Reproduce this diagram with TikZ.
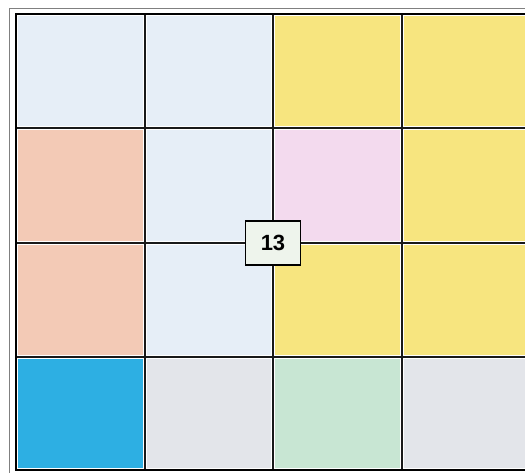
\documentclass[tikz,border=0pt]{standalone}
\usepackage{fontspec}
\setmainfont{Liberation Sans}
\definecolor{cLB}{HTML}{E6EEF7}
\definecolor{cYe}{HTML}{F7E57F}
\definecolor{cSa}{HTML}{F3CAB6}
\definecolor{cPk}{HTML}{F3DAEE}
\definecolor{cBl}{HTML}{2DAFE3}
\definecolor{cGr}{HTML}{E3E5EA}
\definecolor{cMi}{HTML}{C8E6D3}
\definecolor{cLab}{HTML}{EEF4EC}
\begin{document}
\begin{tikzpicture}[x=1pt,y=1pt,
  cellfill/.style={fill=#1,draw=none},
  gridline/.style={draw=black!90,line width=1.8pt},
  outerline/.style={draw=black,line width=2.6pt},
  labelbox/.style={draw=black,line width=1.8pt,fill=cLab,minimum width=55pt,minimum height=44pt,inner sep=0pt,font=\fontsize{22}{22}\selectfont\bfseries}]
\useasboundingbox (0,0) rectangle (525,473);
\fill[white] (0,0) rectangle (525,473);
% thin outer frame
\draw[black!50,line width=0.9pt] (9,-5) -- (9,465) -- (530,465);
% grid positions (px): x 16,145,273,402,531 ; y 14,128,243,357,470 (from top)
\def\xa{16}\def\xb{145}\def\xc{273}\def\xd{402}\def\xe{531}
\def\ya{459}\def\yb{345}\def\yc{230}\def\yd{116}\def\ye{3}
% row 1
\fill[cellfill=cLB] (\xa+2,\yb+2) rectangle (\xb-2,\ya-2);
\fill[cellfill=cLB] (\xb+2,\yb+2) rectangle (\xc-2,\ya-2);
\fill[cellfill=cYe] (\xc+2,\yb+2) rectangle (\xd-2,\ya-2);
\fill[cellfill=cYe] (\xd+2,\yb+2) rectangle (\xe-2,\ya-2);
% row 2
\fill[cellfill=cSa] (\xa+2,\yc+2) rectangle (\xb-2,\yb-2);
\fill[cellfill=cLB] (\xb+2,\yc+2) rectangle (\xc-2,\yb-2);
\fill[cellfill=cPk] (\xc+2,\yc+2) rectangle (\xd-2,\yb-2);
\fill[cellfill=cYe] (\xd+2,\yc+2) rectangle (\xe-2,\yb-2);
% row 3
\fill[cellfill=cSa] (\xa+2,\yd+2) rectangle (\xb-2,\yc-2);
\fill[cellfill=cLB] (\xb+2,\yd+2) rectangle (\xc-2,\yc-2);
\fill[cellfill=cYe] (\xc+2,\yd+2) rectangle (\xd-2,\yc-2);
\fill[cellfill=cYe] (\xd+2,\yd+2) rectangle (\xe-2,\yc-2);
% row 4
\fill[cellfill=cBl] (\xa+2,\ye+2) rectangle (\xb-2,\yd-2);
\fill[cellfill=cGr] (\xb+2,\ye+2) rectangle (\xc-2,\yd-2);
\fill[cellfill=cMi] (\xc+2,\ye+2) rectangle (\xd-2,\yd-2);
\fill[cellfill=cGr] (\xd+2,\ye+2) rectangle (\xe-2,\yd-2);
% inner grid lines
\draw[gridline] (\xb,\ye) -- (\xb,\ya);
\draw[gridline] (\xc,\ye) -- (\xc,\ya);
\draw[gridline] (\xd,\ye) -- (\xd,\ya);
\draw[gridline] (\xa,\yb) -- (\xe,\yb);
\draw[gridline] (\xa,\yc) -- (\xe,\yc);
\draw[gridline] (\xa,\yd) -- (\xe,\yd);
% outer border
\draw[outerline] (\xe+5,\ya) -- (\xa,\ya) -- (\xa,\ye) -- (\xe+5,\ye);
% label
\node[labelbox] (n13) at (\xc,\yc) {13};
\end{tikzpicture}
\end{document}
